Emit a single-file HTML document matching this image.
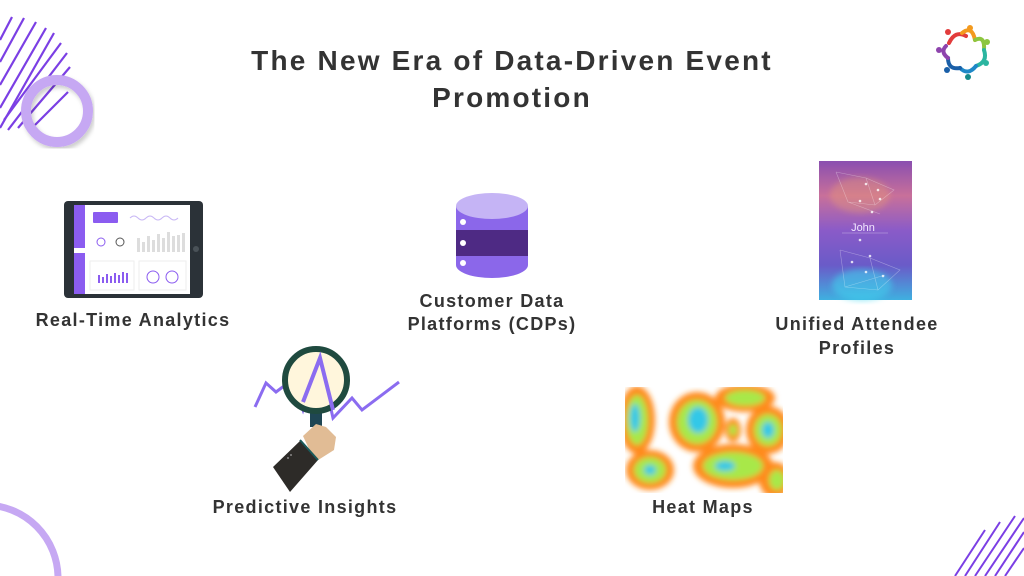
<!DOCTYPE html>
<html><head><meta charset="utf-8"><style>
html,body{margin:0;padding:0;background:#fff;overflow:hidden;width:1024px;height:576px;}
#c{position:relative;width:1024px;height:576px;overflow:hidden;background:#fff;font-family:"Liberation Sans",sans-serif;color:#333;}
.t{position:absolute;font-weight:bold;text-align:center;white-space:nowrap;letter-spacing:1.3px;}
svg{position:absolute;left:0;top:0;}
</style></head><body><div id="c">
<svg width="1024" height="576" viewBox="0 0 1024 576">
<defs>
<filter id="sh"><feDropShadow dx="2" dy="3" stdDeviation="2" flood-color="#000" flood-opacity="0.2"/></filter>
<linearGradient id="card" x1="0" y1="0" x2="0" y2="1">
<stop offset="0" stop-color="#8a4fb0"/><stop offset="0.25" stop-color="#c8709a"/><stop offset="0.5" stop-color="#8a5bc8"/><stop offset="0.75" stop-color="#6a5bc8"/><stop offset="1" stop-color="#3fb0e0"/></linearGradient>
<filter id="bl"><feGaussianBlur stdDeviation="3"/></filter>
<clipPath id="hc"><rect x="625" y="387" width="158" height="106"/></clipPath>
</defs>
<g stroke="#7b3fe4" stroke-width="2.2">
<line x1="0" y1="40" x2="12" y2="17"/><line x1="0" y1="62" x2="24" y2="18"/><line x1="0" y1="85" x2="36" y2="22"/>
<line x1="0" y1="108" x2="46" y2="28"/><line x1="0" y1="128" x2="54" y2="33"/><line x1="4" y1="120" x2="61" y2="43"/>
<line x1="8" y1="130" x2="67" y2="53"/><line x1="18" y1="128" x2="70" y2="67"/><line x1="35" y1="125" x2="68" y2="92"/>
</g>
<circle cx="57" cy="111" r="31" fill="none" stroke="#c6a8f3" stroke-width="10" filter="url(#sh)"/>
<circle cx="-15" cy="578" r="73" fill="none" stroke="#c6a8f3" stroke-width="7"/>
<g stroke="#7b3fe4" stroke-width="2">
<line x1="955" y1="576" x2="985" y2="530"/><line x1="965" y1="576" x2="1000" y2="522"/><line x1="975" y1="576" x2="1015" y2="516"/>
<line x1="985" y1="576" x2="1024" y2="518"/><line x1="995" y1="576" x2="1024" y2="532"/><line x1="1005" y1="576" x2="1024" y2="548"/>
</g>
<g fill="none" stroke-width="4" stroke-linecap="round">
<path d="M949 43 Q955 30 966 36" stroke="#e23b3b"/><path d="M962 33 Q972 25 975 40" stroke="#f39a1e"/>
<path d="M975 40 Q985 35 984 50" stroke="#8dc63f"/><path d="M984 50 Q988 62 976 66" stroke="#2bb5a0"/>
<path d="M976 66 Q968 76 960 68" stroke="#1e88c7"/><path d="M960 68 Q948 70 948 58" stroke="#1a5fa8"/><path d="M948 58 Q940 52 946 46" stroke="#8e44ad"/>
</g>
<g><circle cx="948" cy="32" r="3" fill="#e23b3b"/><circle cx="970" cy="28" r="3" fill="#f39a1e"/><circle cx="987" cy="42" r="3" fill="#8dc63f"/>
<circle cx="986" cy="63" r="3" fill="#2bb5a0"/><circle cx="968" cy="77" r="3" fill="#138a8a"/><circle cx="947" cy="70" r="3" fill="#1a5fa8"/><circle cx="939" cy="50" r="3" fill="#8e44ad"/></g>
<rect x="64" y="201" width="139" height="97" rx="4" fill="#2b3238"/>
<rect x="74" y="205" width="116" height="89" fill="#fff"/>
<rect x="74" y="205" width="11" height="89" fill="#8b5cf0"/>
<rect x="74" y="248" width="11" height="5" fill="#fff"/>
<circle cx="196" cy="249" r="3" fill="#4a5258"/>
<rect x="93" y="212" width="25" height="11" rx="1" fill="#8b5cf0"/>
<path d="M130 218 q4 -4 8 0 t8 0 t8 0 t8 0 t8 0 t8 0" stroke="#c9b8f5" fill="none"/>
<circle cx="101" cy="242" r="4" fill="none" stroke="#8b5cf0"/><circle cx="120" cy="242" r="4" fill="none" stroke="#555"/>
<g fill="#ddd"><rect x="137" y="238" width="3" height="14"/><rect x="142" y="242" width="3" height="10"/><rect x="147" y="236" width="3" height="16"/><rect x="152" y="240" width="3" height="12"/><rect x="157" y="234" width="3" height="18"/><rect x="162" y="238" width="3" height="14"/><rect x="167" y="232" width="3" height="20"/><rect x="172" y="236" width="3" height="16"/><rect x="177" y="235" width="3" height="17"/><rect x="182" y="233" width="3" height="19"/></g>
<rect x="90" y="261" width="44" height="29" fill="none" stroke="#eee"/><rect x="139" y="261" width="47" height="29" fill="none" stroke="#eee"/>
<g fill="#8b5cf0"><rect x="98" y="275" width="2" height="8"/><rect x="102" y="277" width="2" height="6"/><rect x="106" y="274" width="2" height="9"/><rect x="110" y="276" width="2" height="7"/><rect x="114" y="273" width="2" height="10"/><rect x="118" y="275" width="2" height="8"/><rect x="122" y="272" width="2" height="11"/><rect x="126" y="273" width="2" height="10"/></g>
<circle cx="153" cy="277" r="6" fill="none" stroke="#8b5cf0"/><circle cx="172" cy="277" r="6" fill="none" stroke="#8b5cf0"/>
<path d="M456 206 V265 A36 13 0 0 0 528 265 V206 Z" fill="#8b67ea"/>
<rect x="456" y="230" width="72" height="26" fill="#4e2a84"/>
<ellipse cx="492" cy="206" rx="36" ry="13" fill="#c5b4f5"/>
<circle cx="463" cy="222" r="3" fill="#fff"/><circle cx="463" cy="243" r="3" fill="#fff"/><circle cx="463" cy="263" r="3" fill="#fff"/>
<rect x="819" y="161" width="93" height="139" fill="url(#card)"/>
<ellipse cx="860" cy="195" rx="30" ry="18" fill="#f0a070" opacity="0.35" filter="url(#bl)"/>
<ellipse cx="862" cy="285" rx="30" ry="16" fill="#40d8f0" opacity="0.5" filter="url(#bl)"/>
<g stroke="#fff" stroke-opacity="0.35" stroke-width="0.6" fill="none">
<path d="M836 172 L866 178 L894 190 L875 205 L848 202 L836 172 M866 178 L875 205 M848 202 L880 214"/>
<path d="M840 250 L870 258 L900 270 L878 290 L845 287 L840 250 M870 258 L878 290 M845 287 L885 275"/>
</g>
<g fill="#fff" opacity="0.8"><circle cx="866" cy="184" r="1.3"/><circle cx="878" cy="190" r="1.3"/><circle cx="860" cy="201" r="1.3"/><circle cx="880" cy="199" r="1.3"/><circle cx="872" cy="212" r="1.3"/><circle cx="860" cy="240" r="1.3"/><circle cx="870" cy="256" r="1.3"/><circle cx="852" cy="262" r="1.3"/><circle cx="866" cy="272" r="1.3"/><circle cx="883" cy="276" r="1.3"/></g>
<text x="863" y="231" font-family="Liberation Sans" font-size="11" fill="#f2e6ff" text-anchor="middle">John</text>
<line x1="842" y1="233" x2="888" y2="233" stroke="#fff" stroke-opacity="0.5" stroke-width="0.6"/>
<polyline points="255,407 266,383 276,392 292,380 303,410 320,360 333,418 352,398 362,410 399,382" fill="none" stroke="#8b6cf0" stroke-width="3"/>
<rect x="310" y="412" width="12" height="15" fill="#1f4654"/>
<circle cx="316" cy="380" r="31" fill="#fff6dc" stroke="#1f4a3f" stroke-width="6"/>
<polyline points="303,402 320,358 333,410" fill="none" stroke="#8b6cf0" stroke-width="4"/>
<path d="M303 436 L316 424 L326 427 L336 437 L334 450 L315 462 Z" fill="#e1bc95"/>
<path d="M273 467 L301 440 L318 460 L290 492 Z" fill="#2d2b28"/>
<line x1="300" y1="440" x2="318" y2="460" stroke="#1a5a5a" stroke-width="2"/>
<circle cx="288" cy="458" r="1" fill="#888"/><circle cx="291" cy="455" r="1" fill="#888"/>
<g clip-path="url(#hc)">
<rect x="625" y="387" width="158" height="106" fill="#ffffff"/>
<g filter="url(#bl)">
<ellipse cx="637" cy="420" rx="18" ry="34" fill="#ff8a1a"/><ellipse cx="637" cy="420" rx="11" ry="25" fill="#a8e84a"/><ellipse cx="635" cy="418" rx="5" ry="14" fill="#30c8e8"/>
<ellipse cx="697" cy="422" rx="28" ry="30" fill="#ff8a1a"/><ellipse cx="697" cy="422" rx="20" ry="22" fill="#a8e84a"/><ellipse cx="698" cy="420" rx="10" ry="13" fill="#30c8e8"/>
<ellipse cx="745" cy="398" rx="30" ry="14" fill="#ff8a1a"/><ellipse cx="745" cy="398" rx="20" ry="8" fill="#a8e84a"/>
<ellipse cx="768" cy="430" rx="22" ry="24" fill="#ff8a1a"/><ellipse cx="768" cy="430" rx="14" ry="16" fill="#a8e84a"/><ellipse cx="768" cy="430" rx="6" ry="8" fill="#30c8e8"/>
<ellipse cx="733" cy="466" rx="40" ry="22" fill="#ff8a1a"/><ellipse cx="733" cy="466" rx="30" ry="14" fill="#a8e84a"/><ellipse cx="725" cy="466" rx="10" ry="5" fill="#30c8e8"/>
<ellipse cx="650" cy="470" rx="24" ry="20" fill="#ff8a1a"/><ellipse cx="650" cy="470" rx="16" ry="13" fill="#a8e84a"/><ellipse cx="650" cy="470" rx="6" ry="5" fill="#30c8e8"/>
<ellipse cx="775" cy="480" rx="16" ry="18" fill="#ff8a1a"/><ellipse cx="777" cy="480" rx="8" ry="10" fill="#a8e84a"/>
<ellipse cx="733" cy="430" rx="8" ry="12" fill="#ff8a1a"/><ellipse cx="733" cy="430" rx="4" ry="6" fill="#a8e84a"/>
</g></g>
</svg>
<div class="t" style="left:162px;top:42px;width:700px;font-size:28px;line-height:37px;letter-spacing:2.2px;">The New Era of Data-Driven Event<br>Promotion</div>
<div class="t" style="left:13px;top:310px;width:240px;font-size:18px;">Real-Time Analytics</div>
<div class="t" style="left:372px;top:290px;width:240px;font-size:18px;line-height:23px;">Customer Data<br>Platforms (CDPs)</div>
<div class="t" style="left:737px;top:312px;width:240px;font-size:18px;line-height:24px;">Unified Attendee<br>Profiles</div>
<div class="t" style="left:185px;top:497px;width:240px;font-size:18px;">Predictive Insights</div>
<div class="t" style="left:583px;top:497px;width:240px;font-size:18px;">Heat Maps</div>
</div></body></html>
